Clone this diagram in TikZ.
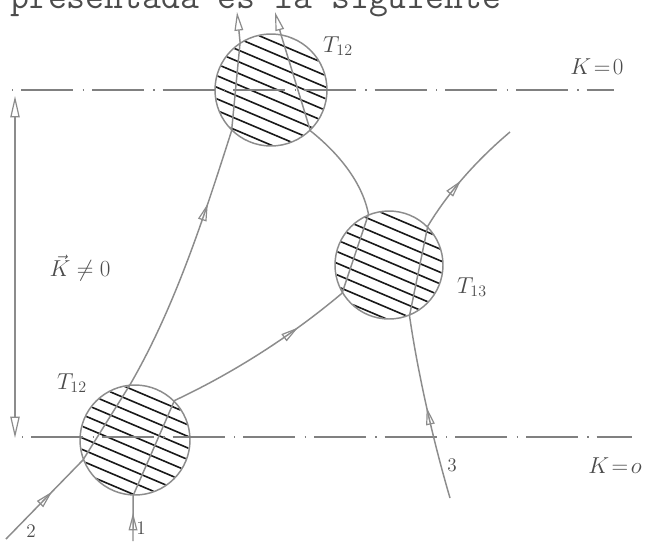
\documentclass[tikz,border=0pt]{standalone}
\usepackage{fontspec}
\usetikzlibrary{arrows.meta,decorations.markings,calc}
\begin{document}
\begin{tikzpicture}[x=0.75pt,y=-0.75pt,
  wire/.style={draw=black!45, line width=1.1pt},
  tipstyle/.style={-{Triangle[open,length=14pt,width=6.5pt,line width=0.9pt]}},
  arrowmid/.style={postaction={decorate,decoration={markings,
      mark=at position #1 with {\arrow{Triangle[open,length=13pt,width=6.5pt,line width=0.9pt]}}}}},
  blob/.style={circle, draw=black!45, line width=1.1pt, inner sep=0pt},
  hatchline/.style={draw=black!90, line width=1.2pt},
  axisline/.style={draw=black!50, line width=0.9pt, dash pattern=on 1pt off 6pt on 39pt off 7pt},
  lab/.style={text=black!70, inner sep=0pt},
  hand/.style={lab, font=\fontsize{17}{17}\selectfont},
  digit/.style={lab, font=\fontsize{14}{14}\selectfont}]
\useasboundingbox (0,0) rectangle (654,544);
\fill[white] (0,0) rectangle (654,544);

% header text (cut by the top edge)
\node[anchor=base west, inner sep=0pt, text=black!70] (hdr) at (10,8)
  {\fontsize{27.5}{27.5}\selectfont\ttfamily presentada es la siguiente};

% blobs
\node[blob, minimum size=82.5pt] (c1) at (135,440) {};
\node[blob, minimum size=84pt]   (c2) at (271,90)  {};
\node[blob, minimum size=81pt]   (c3) at (389,265) {};

% hatching
\foreach \c/\r in {c1/40.5, c2/41.3, c3/39.8} {
  \begin{scope}
    \clip (\c.center) circle[radius=\r pt];
    \begin{scope}[shift={(\c.center)}, x=1pt, y=1pt, rotate=-23]
      \foreach \k in {-6,...,6} \draw[hatchline] (-60,\k*8+2) -- (60,\k*8+2);
    \end{scope}
  \end{scope}
}

% dash-dot lines K=0
\coordinate (a1) at (12,90);
\coordinate (a2) at (614,90);
\coordinate (b1) at (22,437);
\coordinate (b2) at (632,437);
\draw[axisline] (a1) -- (a2);
\draw[axisline] (b1) -- (b2);

% vertical double arrow
\coordinate (va) at (15,96);
\coordinate (vb) at (15,438);
\draw[wire, {Triangle[open,length=16pt,width=7pt,line width=0.9pt]}-{Triangle[open,length=16pt,width=7pt,line width=0.9pt]}] (va) -- (vb);

% free ends
\coordinate (e1) at (133,541);
\coordinate (e2) at (6,539);
\coordinate (e3) at (450,498);
\coordinate (t2) at (237,12);
\coordinate (tB) at (275,12);
\coordinate (f3) at (510,132);

% line 2
\draw[wire, arrowmid=0.6] (e2) -- (c1.201);
\draw[wire] (c1.201) -- (c1.95);
\draw[wire, arrowmid=0.72] (c1.95) .. controls (175,307) and (204,217) .. (c2.226);
\draw[wire] (c2.226) -- (c2.123);
\draw[wire, tipstyle] (c2.123) -- (t2);

% line 1
\draw[wire, arrowmid=0.62] (e1) -- (c1.268);
\draw[wire] (c1.268) -- (c1.45);
\draw[wire, arrowmid=0.72] (c1.45) .. controls (233,373) and (290,337) .. (c3.211.5);
\draw[wire] (c3.211.5) -- (c3.112.8);
\draw[wire] (c3.112.8) .. controls (362,181) and (337,152) .. (c2.314);
\draw[wire] (c2.314) -- (c2.80.7);
\draw[wire, tipstyle] (c2.80.7) -- (tB);

% line 3
\draw[wire, arrowmid=0.5] (e3) .. controls (433,440) and (418,374) .. (c3.292);
\draw[wire] (c3.292) -- (c3.45);
\draw[wire, arrowmid=0.45] (c3.45) .. controls (449,191) and (478,159) .. (f3);

% labels
\node[hand] (lT12a) at (338,46) {$T_{12}$};
\node[hand] (lT12b) at (72,383) {$T_{12}$};
\node[hand] (lT13) at (472,287) {$T_{13}$};
\node[hand] (lK0a) at (597,67) {$K\!=\!0$};
\node[hand] (lK0b) at (615,466) {$K\!=\!o$};
\node[hand] (lKn) at (80,268) {$\vec{K}\neq 0$};
\node[digit] (l1) at (141,528) {$1$};
\node[digit] (l2) at (31,531) {$2$};
\node[digit] (l3) at (452,465) {$3$};
\end{tikzpicture}
\end{document}
